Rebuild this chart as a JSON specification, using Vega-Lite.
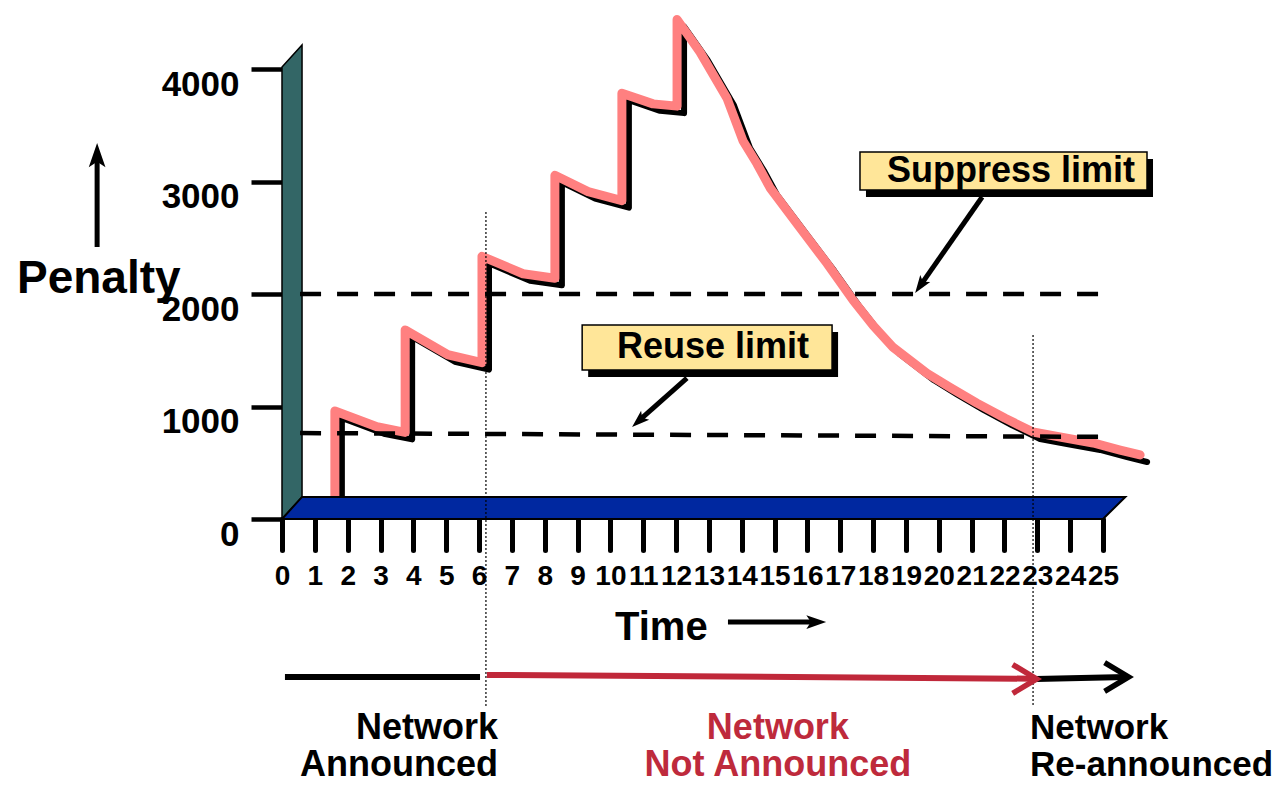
{
  "$schema": "https://vega.github.io/schema/vega-lite/v6.json",
  "description": "Route flap dampening: penalty over time with suppress and reuse limits.",
  "width": 821,
  "height": 450,
  "autosize": {"type": "none"},
  "padding": {"left": 282, "top": 69, "right": 184, "bottom": 266},
  "background": "white",
  "config": {"view": {"stroke": null}, "font": "Liberation Sans"},
  "datasets": {
    "curve": [
      {"i": 0, "t": 1.61, "p": 196},
      {"i": 1, "t": 1.61, "p": 960},
      {"i": 2, "t": 2.89, "p": 820},
      {"i": 3, "t": 3.75, "p": 770},
      {"i": 4, "t": 3.75, "p": 1680},
      {"i": 5, "t": 5.05, "p": 1460},
      {"i": 6, "t": 6.09, "p": 1390},
      {"i": 7, "t": 6.09, "p": 2335},
      {"i": 8, "t": 7.34, "p": 2180},
      {"i": 9, "t": 8.31, "p": 2140},
      {"i": 10, "t": 8.31, "p": 3055},
      {"i": 11, "t": 9.32, "p": 2910},
      {"i": 12, "t": 10.35, "p": 2830},
      {"i": 13, "t": 10.35, "p": 3785},
      {"i": 14, "t": 11.3, "p": 3690},
      {"i": 15, "t": 12.03, "p": 3670},
      {"i": 16, "t": 12.03, "p": 4440},
      {"i": 17, "t": 12.73, "p": 4150},
      {"i": 18, "t": 13.55, "p": 3740},
      {"i": 19, "t": 14.04, "p": 3360},
      {"i": 20, "t": 14.46, "p": 3160},
      {"i": 21, "t": 14.86, "p": 2945},
      {"i": 22, "t": 15.77, "p": 2590},
      {"i": 23, "t": 16.6, "p": 2270},
      {"i": 24, "t": 17.39, "p": 1945},
      {"i": 25, "t": 18.0, "p": 1720},
      {"i": 26, "t": 18.61, "p": 1525},
      {"i": 27, "t": 19.64, "p": 1295},
      {"i": 28, "t": 20.34, "p": 1170},
      {"i": 29, "t": 21.16, "p": 1030},
      {"i": 30, "t": 22.02, "p": 895},
      {"i": 31, "t": 22.87, "p": 773},
      {"i": 32, "t": 23.69, "p": 729},
      {"i": 33, "t": 24.7, "p": 676},
      {"i": 34, "t": 25.52, "p": 613},
      {"i": 35, "t": 26.13, "p": 569}
    ],
    "wall": [
      {"t": 0, "p": 0, "p2": 4018},
      {"t": 0.61, "p": 196, "p2": 4213}
    ],
    "floor": [
      {"t": 0, "p": 0, "p2": 0},
      {"t": 0.61, "p": 0, "p2": 196},
      {"t": 25, "p": 0, "p2": 196},
      {"t": 25.68, "p": 196, "p2": 196}
    ],
    "limits": [
      {"name": "Suppress limit", "t": 0.55, "p": 2000, "t2": 25, "p2": 2000},
      {"name": "Reuse limit", "t": 0.55, "p": 764, "t2": 25, "p2": 730}
    ],
    "events": [
      {"event": "withdrawn", "t": 6.21, "p": 2729, "p2": -1671},
      {"event": "reannounced", "t": 22.87, "p": 1636, "p2": -1671}
    ],
    "boxes": [
      {"name": "Suppress limit", "t": 17.6, "t2": 26.34, "p": 3262, "p2": 2924},
      {"name": "Reuse limit", "t": 9.14, "t2": 16.75, "p": 1724, "p2": 1324}
    ],
    "boxlabels": [
      {"name": "Suppress limit", "t": 18.42, "p": 3090},
      {"name": "Reuse limit", "t": 10.2, "p": 1525}
    ],
    "arrows": [
      {"name": "penalty", "t": -5.63, "p": 2418, "t2": -5.63, "p2": 3236},
      {"name": "time", "t": 13.58, "p": -916, "t2": 16.15, "p2": -916},
      {"name": "suppress", "t": 21.32, "p": 2862, "t2": 19.49, "p2": 2097},
      {"name": "reuse", "t": 12.33, "p": 1253, "t2": 10.93, "p2": 889}
    ],
    "heads": [
      {"name": "penalty", "t": -5.63, "p": 3342},
      {"name": "time", "t": 16.57, "p": -916},
      {"name": "suppress", "t": 19.28, "p": 2009},
      {"name": "reuse", "t": 10.66, "p": 818}
    ],
    "timeline": [
      {"state": "announced", "t": 0.09, "p": -1404, "t2": 6.03, "p2": -1404},
      {"state": "not announced", "t": 6.24, "p": -1386, "t2": 22.9, "p2": -1420},
      {"state": "re-announced", "t": 22.96, "p": -1422, "t2": 25.7, "p2": -1404}
    ],
    "timeheads": [
      {"state": "not announced", "t": 22.98, "p": -1422},
      {"state": "re-announced", "t": 25.78, "p": -1404}
    ]
  },
  "encoding": {
    "x": {
      "field": "t",
      "type": "quantitative",
      "title": null,
      "scale": {"domain": [0, 25], "nice": false, "zero": false},
      "axis": {
        "values": [0, 1, 2, 3, 4, 5, 6, 7, 8, 9, 10, 11, 12, 13, 14, 15, 16, 17, 18, 19, 20, 21, 22, 23, 24, 25],
        "domain": false,
        "grid": false,
        "tickSize": 31,
        "tickWidth": 5,
        "tickColor": "black",
        "tickCap": "round",
        "labelFont": "Liberation Sans",
        "labelFontSize": 28,
        "labelFontWeight": "bold",
        "labelColor": "black",
        "labelPadding": 12,
        "labelFlush": false,
        "labelOverlap": false,
        "labelBound": false
      }
    },
    "y": {
      "field": "p",
      "type": "quantitative",
      "title": null,
      "scale": {"domain": [0, 4000], "nice": false, "zero": false},
      "axis": {
        "values": [0, 1000, 2000, 3000, 4000],
        "format": "d",
        "domain": false,
        "grid": false,
        "tickSize": 31,
        "tickWidth": 4.5,
        "tickColor": "black",
        "labelFont": "Liberation Sans",
        "labelFontSize": 35,
        "labelFontWeight": "bold",
        "labelColor": "black",
        "labelPadding": 12,
        "labelOffset": 15,
        "labelFlush": false,
        "labelOverlap": false,
        "labelBound": false
      }
    }
  },
  "layer": [
    {
      "data": {"name": "wall"},
      "mark": {"type": "area", "orient": "vertical", "color": "#336666", "stroke": "black", "strokeWidth": 1.5},
      "encoding": {"y2": {"field": "p2"}}
    },
    {
      "data": {"name": "curve"},
      "mark": {"type": "line", "color": "black", "strokeWidth": 6, "xOffset": 7, "yOffset": 7, "strokeJoin": "round", "strokeCap": "round"},
      "encoding": {"order": {"field": "i"}}
    },
    {
      "data": {"name": "curve"},
      "mark": {"type": "line", "color": "#FF8080", "strokeWidth": 9, "strokeJoin": "round", "strokeCap": "round"},
      "encoding": {"order": {"field": "i"}}
    },
    {
      "data": {"name": "floor"},
      "mark": {"type": "area", "orient": "vertical", "color": "#0028A0", "stroke": "black", "strokeWidth": 2},
      "encoding": {"y2": {"field": "p2"}}
    },
    {
      "data": {"name": "limits"},
      "mark": {"type": "rule", "color": "black", "strokeWidth": 4.5, "strokeDash": [21, 16], "strokeCap": "butt"},
      "encoding": {"x2": {"field": "t2"}, "y2": {"field": "p2"}}
    },
    {
      "data": {"name": "events"},
      "mark": {"type": "rule", "color": "black", "strokeWidth": 1.2, "strokeDash": [2, 2]},
      "encoding": {"y2": {"field": "p2"}}
    },
    {
      "data": {"name": "boxes"},
      "mark": {"type": "rect", "color": "black", "xOffset": 6, "x2Offset": 6, "yOffset": 7, "y2Offset": 7},
      "encoding": {"x2": {"field": "t2"}, "y2": {"field": "p2"}}
    },
    {
      "data": {"name": "boxes"},
      "mark": {"type": "rect", "fill": "#FFE699", "stroke": "black", "strokeWidth": 1.5},
      "encoding": {"x2": {"field": "t2"}, "y2": {"field": "p2"}}
    },
    {
      "data": {"name": "boxlabels"},
      "mark": {"type": "text", "align": "left", "baseline": "middle", "fontSize": 36, "fontWeight": "bold", "color": "black"},
      "encoding": {"text": {"field": "name"}}
    },
    {
      "data": {"name": "arrows"},
      "mark": {"type": "rule", "color": "black", "strokeWidth": 5, "strokeCap": "butt"},
      "encoding": {"x2": {"field": "t2"}, "y2": {"field": "p2"}}
    },
    {
      "data": {"name": "heads"},
      "transform": [{"filter": "datum.name === 'penalty'"}],
      "mark": {"type": "point", "shape": "M0,0L0.38,1.1L0,0.85L-0.38,1.1Z", "filled": true, "color": "black", "opacity": 1, "size": 1936, "angle": 0}
    },
    {
      "data": {"name": "heads"},
      "transform": [{"filter": "datum.name === 'time'"}],
      "mark": {"type": "point", "shape": "M0,0L0.38,1.1L0,0.85L-0.38,1.1Z", "filled": true, "color": "black", "opacity": 1, "size": 1296, "angle": 90}
    },
    {
      "data": {"name": "heads"},
      "transform": [{"filter": "datum.name === 'suppress'"}],
      "mark": {"type": "point", "shape": "M0,0L0.38,1.1L0,0.85L-0.38,1.1Z", "filled": true, "color": "black", "opacity": 1, "size": 1024, "angle": 215}
    },
    {
      "data": {"name": "heads"},
      "transform": [{"filter": "datum.name === 'reuse'"}],
      "mark": {"type": "point", "shape": "M0,0L0.38,1.1L0,0.85L-0.38,1.1Z", "filled": true, "color": "black", "opacity": 1, "size": 1024, "angle": 228}
    },
    {
      "data": {"name": "timeline"},
      "mark": {"type": "rule", "strokeWidth": 6, "strokeCap": "butt"},
      "encoding": {
        "x2": {"field": "t2"},
        "y2": {"field": "p2"},
        "color": {"field": "state", "type": "nominal", "scale": {"domain": ["announced", "not announced", "re-announced"], "range": ["black", "#C0283A", "black"]}, "legend": null}
      }
    },
    {
      "data": {"name": "timeheads"},
      "mark": {"type": "point", "shape": "M-0.6,1L0,0L0.6,1", "filled": false, "strokeWidth": 5.5, "strokeJoin": "miter", "opacity": 1, "size": 2304, "angle": 90},
      "encoding": {
        "color": {"field": "state", "type": "nominal", "scale": {"domain": ["announced", "not announced", "re-announced"], "range": ["black", "#C0283A", "black"]}, "legend": null}
      }
    },
    {
      "data": {"values": [{"text": "Penalty", "t": -8.07, "p": 2009}]},
      "mark": {"type": "text", "align": "left", "baseline": "alphabetic", "fontSize": 46, "fontWeight": "bold", "color": "black"},
      "encoding": {"text": {"field": "text"}}
    },
    {
      "data": {"values": [{"text": "Time", "t": 10.14, "p": -1076}]},
      "mark": {"type": "text", "align": "left", "baseline": "alphabetic", "fontSize": 40, "fontWeight": "bold", "color": "black"},
      "encoding": {"text": {"field": "text"}}
    },
    {
      "data": {"values": [{"text": "Network", "t": 6.58, "p": -1955}, {"text": "Announced", "t": 6.58, "p": -2285}]},
      "mark": {"type": "text", "align": "right", "baseline": "alphabetic", "fontSize": 36, "fontWeight": "bold", "color": "black"},
      "encoding": {"text": {"field": "text"}}
    },
    {
      "data": {"values": [{"text": "Network", "t": 15.1, "p": -1955}, {"text": "Not Announced", "t": 15.1, "p": -2285}]},
      "mark": {"type": "text", "align": "center", "baseline": "alphabetic", "fontSize": 36, "fontWeight": "bold", "color": "#BE2A3C"},
      "encoding": {"text": {"field": "text"}}
    },
    {
      "data": {"values": [{"text": "Network", "t": 22.78, "p": -1955}, {"text": "Re-announced", "t": 22.78, "p": -2285}]},
      "mark": {"type": "text", "align": "left", "baseline": "alphabetic", "fontSize": 35, "fontWeight": "bold", "color": "black"},
      "encoding": {"text": {"field": "text"}}
    }
  ]
}
